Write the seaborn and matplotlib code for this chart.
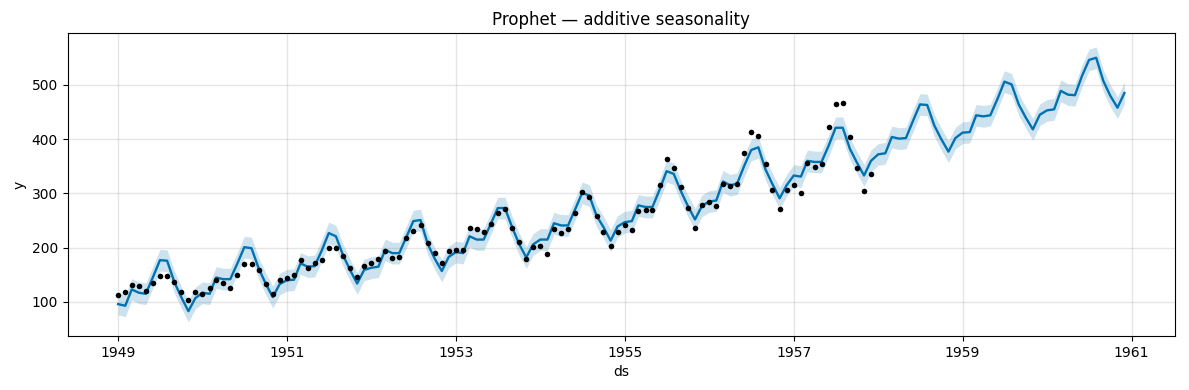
import numpy as np
import pandas as pd
import matplotlib
matplotlib.use("Agg")
import matplotlib.pyplot as plt
import matplotlib.dates as mdates
import seaborn as sns

# monthly air passengers (thousands), Jan 1949 - Dec 1957
observed = [
    112, 118, 132, 129, 121, 135, 148, 148, 136, 119, 104, 118,
    115, 126, 141, 135, 125, 149, 170, 170, 158, 133, 114, 140,
    145, 150, 178, 163, 172, 178, 199, 199, 184, 162, 146, 166,
    171, 180, 193, 181, 183, 218, 230, 242, 209, 191, 172, 194,
    196, 196, 236, 235, 229, 243, 264, 272, 237, 211, 180, 201,
    204, 188, 235, 227, 234, 264, 302, 293, 259, 229, 203, 229,
    242, 233, 267, 269, 270, 315, 364, 347, 312, 274, 237, 278,
    284, 277, 317, 313, 318, 374, 413, 405, 355, 306, 271, 306,
    315, 301, 356, 348, 355, 422, 465, 467, 404, 347, 305, 336,
]

# prophet forecast (yhat), Jan 1949 - Dec 1960
yhat = [
    96, 93, 123, 117, 115, 146, 177, 176, 137, 109, 83, 107,
    117, 115, 145, 142, 142, 171, 201, 199, 162, 134, 109, 133,
    140, 141, 171, 165, 166, 195, 227, 221, 186, 159, 134, 159,
    163, 165, 196, 190, 190, 220, 249, 251, 207, 180, 157, 183,
    192, 190, 221, 215, 215, 244, 273, 273, 238, 207, 182, 206,
    215, 215, 245, 241, 241, 271, 301, 296, 259, 238, 213, 239,
    247, 249, 278, 275, 275, 307, 341, 336, 304, 277, 252, 277,
    285, 287, 322, 315, 318, 351, 380, 385, 344, 317, 291, 315,
    333, 331, 360, 358, 358, 388, 421, 421, 382, 357, 333, 360,
    372, 374, 404, 401, 402, 434, 464, 463, 425, 400, 377, 402,
    412, 413, 444, 442, 444, 474, 506, 501, 464, 440, 418, 445,
    453, 455, 489, 482, 481, 517, 546, 550, 507, 480, 458, 485,
]

interval_half_width = 20
tick_years = [1949, 1951, 1953, 1955, 1957, 1959, 1961]

hist = pd.DataFrame({
    "ds": pd.date_range("1949-01-01", periods=len(observed), freq="MS"),
    "y": observed,
})
fcst = pd.DataFrame({
    "ds": pd.date_range("1949-01-01", periods=len(yhat), freq="MS"),
    "yhat": yhat,
})
fcst["yhat_lower"] = fcst["yhat"] - interval_half_width
fcst["yhat_upper"] = fcst["yhat"] + interval_half_width

fig, ax = plt.subplots(figsize=(11.89, 3.9), dpi=100)

sns.scatterplot(data=hist, x="ds", y="y", color="k", s=16, linewidth=0, ax=ax, zorder=3)
sns.lineplot(data=fcst, x="ds", y="yhat", color="#0072B2", linewidth=1.7, ax=ax, zorder=2)
ax.fill_between(fcst["ds"], fcst["yhat_lower"], fcst["yhat_upper"],
                color="#0072B2", alpha=0.2, linewidth=0)

ax.set_xticks([pd.Timestamp(f"{y}-01-01") for y in tick_years])
ax.xaxis.set_major_formatter(mdates.DateFormatter("%Y"))

ax.grid(True, which="major", color="gray", linestyle="-", linewidth=1, alpha=0.2)
ax.set_title("Prophet — additive seasonality")
ax.set_xlabel("ds")
ax.set_ylabel("y")

fig.subplots_adjust(left=0.057, right=0.988, top=0.915, bottom=0.139)
fig.savefig("out.png", dpi=100)
